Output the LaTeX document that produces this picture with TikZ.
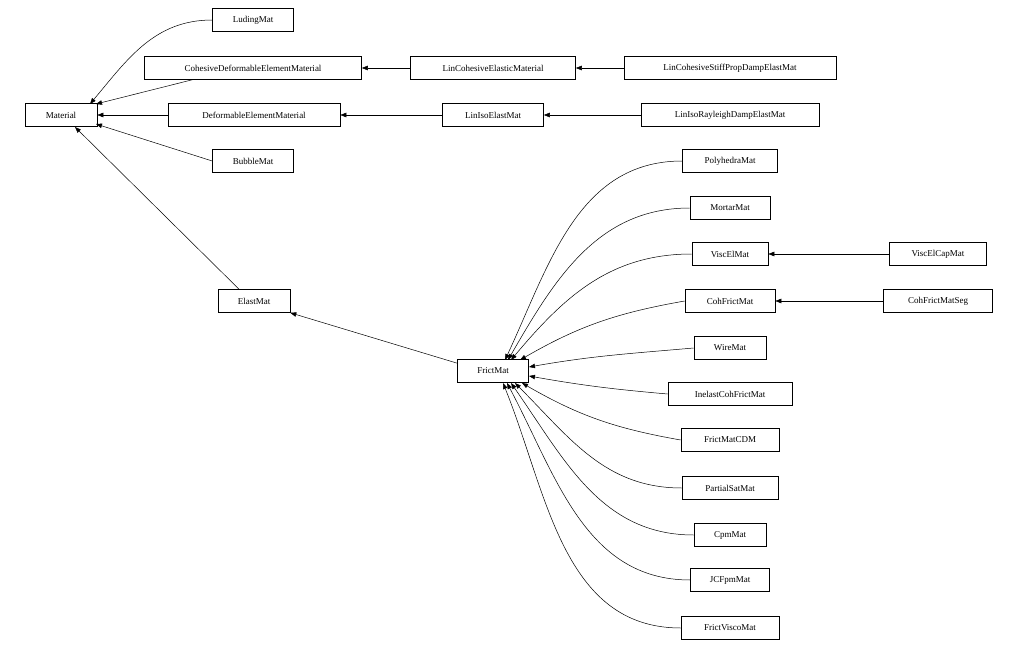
\documentclass[tikz,border=0pt]{standalone}
\usepackage{fontspec}
\setmainfont{Liberation Serif}
\usetikzlibrary{arrows.meta}
\begin{document}
\begin{tikzpicture}[x=1pt,y=-1pt,
  box/.style={draw,line width=0.6pt,minimum height=23pt,inner sep=0pt,font=\fontsize{9}{10}\selectfont,minimum width=#1},
  box/.default=80pt,
  e/.style={line width=0.5pt,-{Triangle[length=6pt,width=4.5pt]}}]
\useasboundingbox (0,0) rectangle (1018,650);
\node[box=81pt] (lud) at (253,20) {LudingMat};
\node[box=217pt] (cdem) at (253,68) {CohesiveDeformableElementMaterial};
\node[box=165pt] (lcem) at (493,68) {LinCohesiveElasticMaterial};
\node[box=212pt] (lcsp) at (730,68) {LinCohesiveStiffPropDampElastMat};
\node[box=72pt] (mat) at (61,115) {Material};
\node[box=172pt] (dem) at (254,115) {DeformableElementMaterial};
\node[box=101pt] (lie) at (493,115) {LinIsoElastMat};
\node[box=178pt] (lir) at (730,115) {LinIsoRayleighDampElastMat};
\node[box=81pt] (bub) at (253,161) {BubbleMat};
\node[box=72pt] (ela) at (254,301) {ElastMat};
\node[box=71pt] (fri) at (493,371) {FrictMat};
\node[box=95pt] (pol) at (730,161) {PolyhedraMat};
\node[box=80pt] (mor) at (730,208) {MortarMat};
\node[box=76pt] (vis) at (730,254) {ViscElMat};
\node[box=97pt] (vcap) at (938,254) {ViscElCapMat};
\node[box=90pt] (coh) at (730,301) {CohFrictMat};
\node[box=109pt] (cseg) at (938,301) {CohFrictMatSeg};
\node[box=72pt] (wir) at (730,348) {WireMat};
\node[box=124pt] (ine) at (730,394) {InelastCohFrictMat};
\node[box=98pt] (cdm) at (730,440) {FrictMatCDM};
\node[box=96pt] (psm) at (730,488) {PartialSatMat};
\node[box=72pt] (cpm) at (730,535) {CpmMat};
\node[box=79pt] (jcf) at (730,580) {JCFpmMat};
\node[box=98pt] (fvm) at (730,628) {FrictViscoMat};

\draw[e] (lud.west) to[out=180,in=50] (90,104);
\draw[e] (cdem.south west) ++(48,0) -- (96,104);
\draw[e] (dem.west) -- (mat.east);
\draw[e] (bub.west) -- (96,124);
\draw[e] (ela.north) ++(-15,0) -- (75,127);
\draw[e] (lcem.west) -- (cdem.east);
\draw[e] (lcsp.west) -- (lcem.east);
\draw[e] (lie.west) -- (dem.east);
\draw[e] (lir.west) -- (lie.east);
\draw[e] (fri.north west) ++(0,4) -- (ela.south east);
\draw[e] (vcap.west) -- (vis.east);
\draw[e] (cseg.west) -- (coh.east);
\draw[e] (pol.west) to[out=180,in=65] (505,360);
\draw[e] (mor.west) to[out=180,in=60] (508,360);
\draw[e] (vis.west) to[out=180,in=50] (511,360);
\draw[e] (coh.west) to[out=190,in=30] (520,360);
\draw[e] (wir.west) to[out=185,in=10] (529,367);
\draw[e] (ine.west) to[out=175,in=-10] (529,376);
\draw[e] (cdm.west) to[out=170,in=-30] (522,383);
\draw[e] (psm.west) to[out=180,in=-45] (515,383);
\draw[e] (cpm.west) to[out=180,in=-55] (511,383);
\draw[e] (jcf.west) to[out=180,in=-62] (507,383);
\draw[e] (fvm.west) to[out=180,in=-68] (503,383);
\end{tikzpicture}
\end{document}
